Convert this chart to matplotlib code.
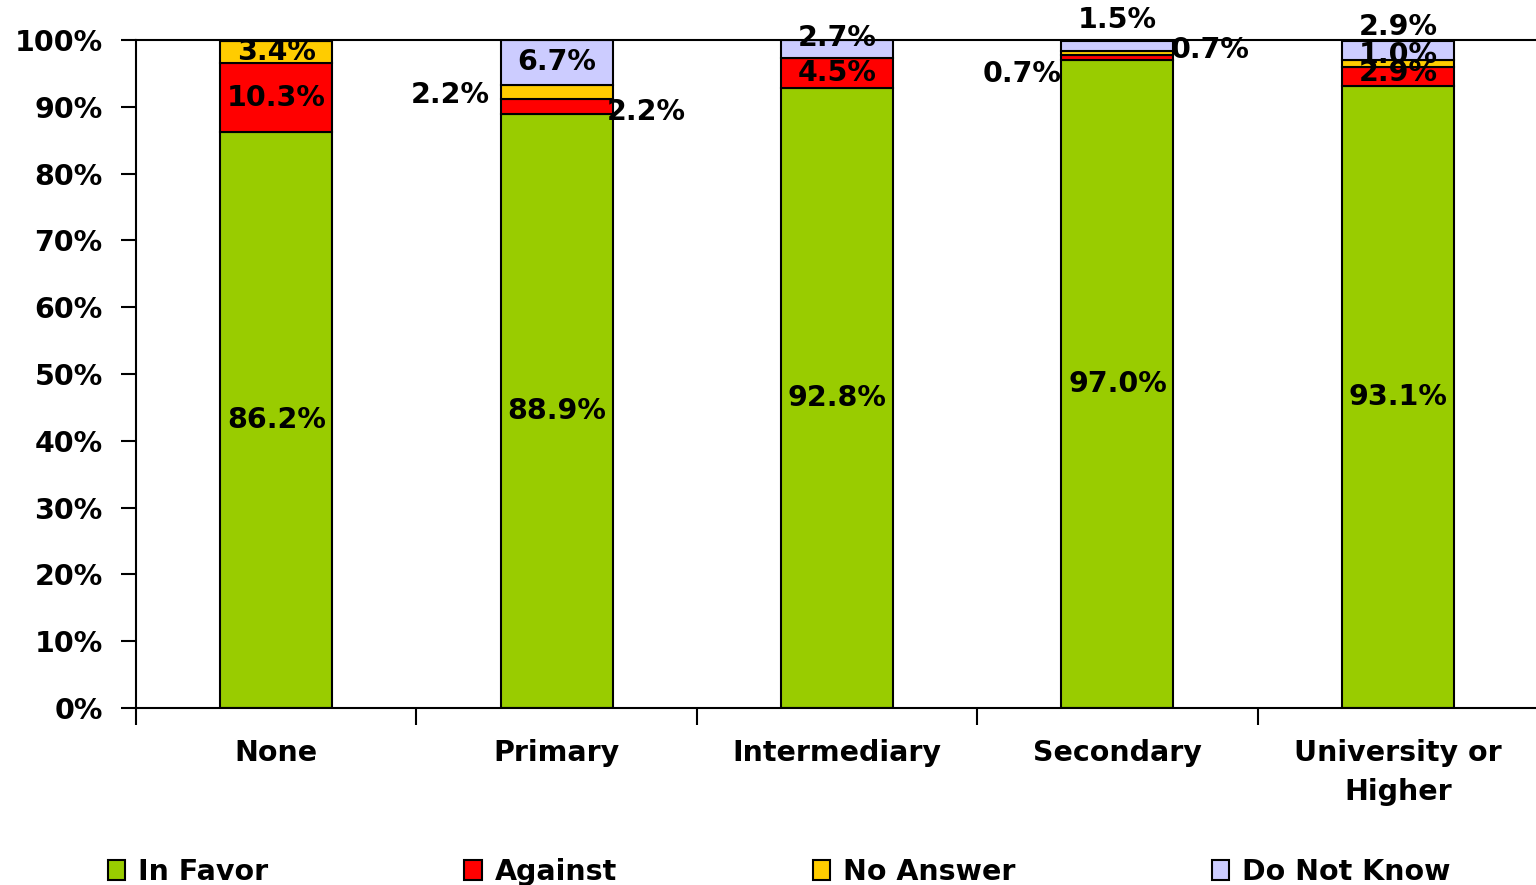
import matplotlib
matplotlib.use("Agg")
import matplotlib.pyplot as plt
from matplotlib.patches import Patch
import numpy as np

plt.rcParams['font.family'] = ['DejaVu Sans']
plt.rcParams['font.weight'] = 'bold'

categories = ["None", "Primary", "Intermediary", "Secondary", "University or\nHigher"]
series = ["In Favor", "Against", "No Answer", "Do Not Know"]
in_favor = [86.2, 88.9, 92.8, 97.0, 93.1]
against = [10.3, 2.2, 4.5, 0.7, 2.9]
no_answer = [3.4, 2.2, 0.0, 0.7, 1.0]
do_not_know = [0.0, 6.7, 2.7, 1.5, 2.9]
yticks = [0, 10, 20, 30, 40, 50, 60, 70, 80, 90, 100]

colors = ["#99CC00", "#FF0000", "#FFCC00", "#CCCCFF"]
FS = 20.5

# label nudges (x in categories, y in %) where the labels were moved off the segment
nudges = {
    (1, 1): (0.32, -0.8), (1, 2): (-0.38, -0.4),
    (2, 3): (0, 1.65),
    (3, 1): (-0.34, -2.5), (3, 2): (0.33, 0.45), (3, 3): (0, 3.85),
    (4, 1): (0, 0.5), (4, 2): (0, 1.25), (4, 3): (0, 3.5),
}

fig = plt.figure(figsize=(15.36, 8.85), dpi=100)
ax = fig.add_axes([136 / 1536, 0.2, 1402 / 1536, 0.7548])

x = np.arange(len(categories))
data = [in_favor, against, no_answer, do_not_know]
bottom = np.zeros(len(categories))
for si, vals in enumerate(data):
    vals = np.array(vals)
    ax.bar(x, vals, 0.4, bottom=bottom, color=colors[si], edgecolor="black", linewidth=1.5, zorder=2)
    for ci, v in enumerate(vals):
        if v <= 0:
            continue
        dx, dy = nudges.get((ci, si), (0, 0))
        ax.text(x[ci] + dx, bottom[ci] + v / 2 + dy, f"{v:.1f}%", ha="center", va="center",
                fontsize=FS, fontweight="bold", color="black", zorder=3)
    bottom += vals

ax.set_xlim(-0.5, 4.5)
ax.set_ylim(0, 100)
ax.set_yticks(yticks)
ax.set_yticklabels([f"{t}%" for t in yticks], fontsize=FS, fontweight="bold")
ax.tick_params(axis="y", length=11, width=1.5, direction="out", pad=13)

ax.set_xticks(x)
ax.set_xticklabels(categories, fontsize=FS, fontweight="bold", linespacing=1.5)
ax.tick_params(axis="x", which="major", length=0, pad=22)
ax.set_xticks(np.arange(-0.5, 5, 1), minor=True)
ax.tick_params(axis="x", which="minor", length=12, width=1.5, direction="out")

for s in ["left", "bottom", "top"]:
    ax.spines[s].set_linewidth(1.5)
ax.spines["right"].set_visible(False)

handles = [Patch(facecolor=c, edgecolor="black", linewidth=1.5) for c in colors]
fig.legend(handles, series, loc="center left", bbox_to_anchor=(108 / 1536, 1 - 872 / 885),
           ncol=4, frameon=False, prop={"weight": "bold", "size": FS},
           handlelength=0.6, handleheight=0.75, handletextpad=0.45, columnspacing=6.9,
           borderpad=0, borderaxespad=0)

fig.savefig("out.png", dpi=100)
